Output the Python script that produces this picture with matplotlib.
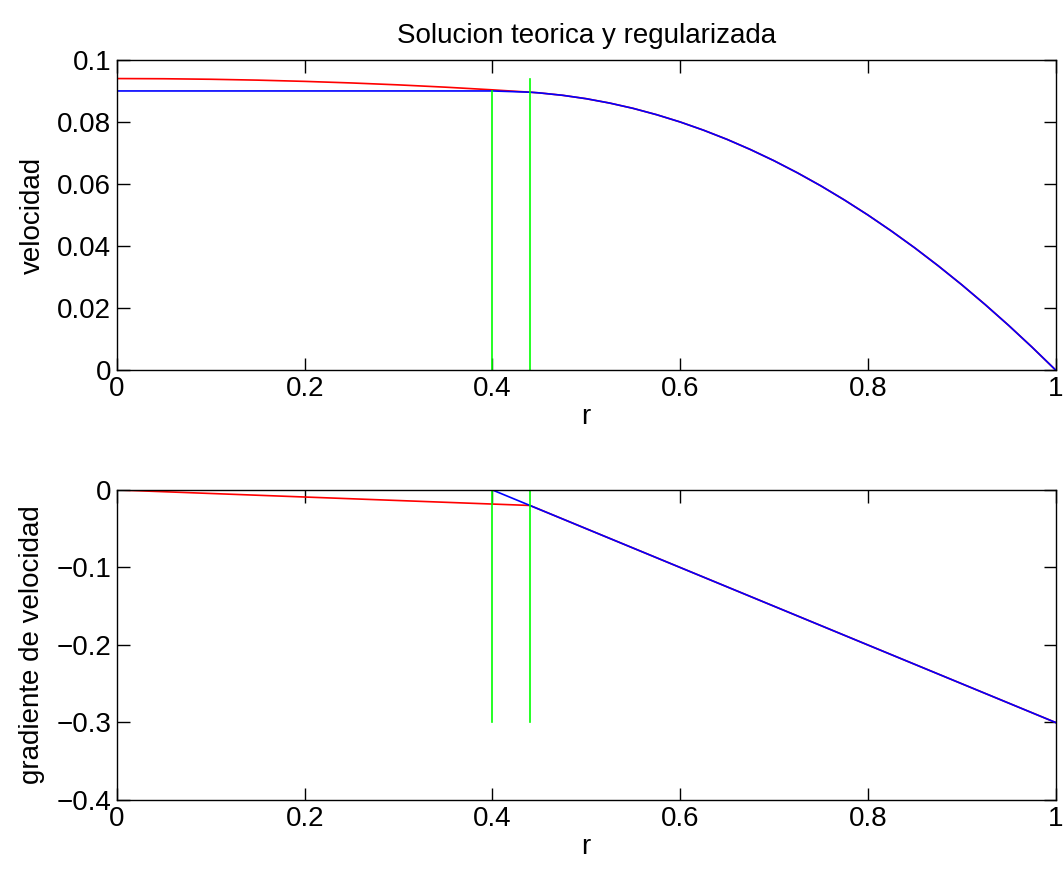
import matplotlib
matplotlib.use("Agg")
import matplotlib.pyplot as plt

plt.rcParams['font.family'] = ['Liberation Sans', 'DejaVu Sans']

# radio
r = [0.0, 0.05, 0.10, 0.15, 0.20, 0.25, 0.30, 0.35, 0.40, 0.44, 0.45, 0.475,
     0.50, 0.525, 0.55, 0.575, 0.60, 0.625, 0.65, 0.675, 0.70, 0.725, 0.75,
     0.775, 0.80, 0.825, 0.85, 0.875, 0.90, 0.925, 0.95, 0.975, 1.0]

# velocidad teorica (azul) y regularizada (rojo)
u_tail = [0.0896, 0.08938, 0.08859, 0.0875, 0.08609, 0.08438, 0.08234, 0.0800,
          0.07734, 0.07438, 0.07109, 0.0675, 0.06359, 0.05938, 0.05484, 0.0500,
          0.04484, 0.03938, 0.03359, 0.0275, 0.02109, 0.01438, 0.00734, 0.0]
u_teorica = [0.0900] * 9 + u_tail
u_regular = [0.0940, 0.09394, 0.09377, 0.09349, 0.09309, 0.09258, 0.09196,
             0.09122, 0.09036] + u_tail

# gradiente de velocidad (puntos de quiebre)
r_grad_teo = [0.0, 0.40, 1.0]
g_teorica = [0.0, 0.0, -0.3]
r_grad_reg = [0.0, 0.44, 1.0]
g_regular = [0.0, -0.02, -0.3]

# radios de la zona rigida
r_plug = [0.40, 0.44]
u_plug_top = [0.090, 0.094]
g_plug_bottom = -0.3

xticks = [0, 0.2, 0.4, 0.6, 0.8, 1.0]
xlabels = ["0", "0.2", "0.4", "0.6", "0.8", "1"]
yticks1 = [0, 0.02, 0.04, 0.06, 0.08, 0.1]
ylabels1 = ["0", "0.02", "0.04", "0.06", "0.08", "0.1"]
yticks2 = [-0.4, -0.3, -0.2, -0.1, 0]
ylabels2 = ["\u22120.4", "\u22120.3", "\u22120.2", "\u22120.1", "0"]

fig = plt.figure(figsize=(10.63, 8.74), dpi=100)
ax1 = fig.add_axes([0.110, 0.5767, 0.883, 0.3547])
ax2 = fig.add_axes([0.110, 0.0847, 0.883, 0.3547])

fs = 20
lw = 1.2
green = (0, 1, 0)

# panel superior
ax1.plot(r, u_regular, color="red", lw=lw)
ax1.plot(r, u_teorica, color="blue", lw=lw)
for rp, top in zip(r_plug, u_plug_top):
    ax1.plot([rp, rp], [0, top], color=green, lw=lw)
ax1.set_xlim(0, 1)
ax1.set_ylim(0, 0.1)
ax1.set_xticks(xticks)
ax1.set_xticklabels(xlabels)
ax1.set_yticks(yticks1)
ax1.set_yticklabels(ylabels1)
ax1.set_xlabel("r", fontsize=fs, labelpad=2)
ax1.set_ylabel("velocidad", fontsize=fs, labelpad=8)
ax1.set_title("Solucion teorica y regularizada", fontsize=fs, pad=12)

# panel inferior
ax2.plot(r_grad_reg, g_regular, color="red", lw=lw)
ax2.plot(r_grad_teo, g_teorica, color="blue", lw=lw)
for rp in r_plug:
    ax2.plot([rp, rp], [g_plug_bottom, 0], color=green, lw=lw)
ax2.set_xlim(0, 1)
ax2.set_ylim(-0.4, 0)
ax2.set_xticks(xticks)
ax2.set_xticklabels(xlabels)
ax2.set_yticks(yticks2)
ax2.set_yticklabels(ylabels2)
ax2.set_xlabel("r", fontsize=fs, labelpad=2)
ax2.set_ylabel("gradiente de velocidad", fontsize=fs, labelpad=8)

for ax in (ax1, ax2):
    ax.tick_params(direction="in", top=True, right=True, length=9, width=1,
                   labelsize=fs, pad=4)
    for s in ax.spines.values():
        s.set_linewidth(1)

fig.savefig("out.png", dpi=100)
